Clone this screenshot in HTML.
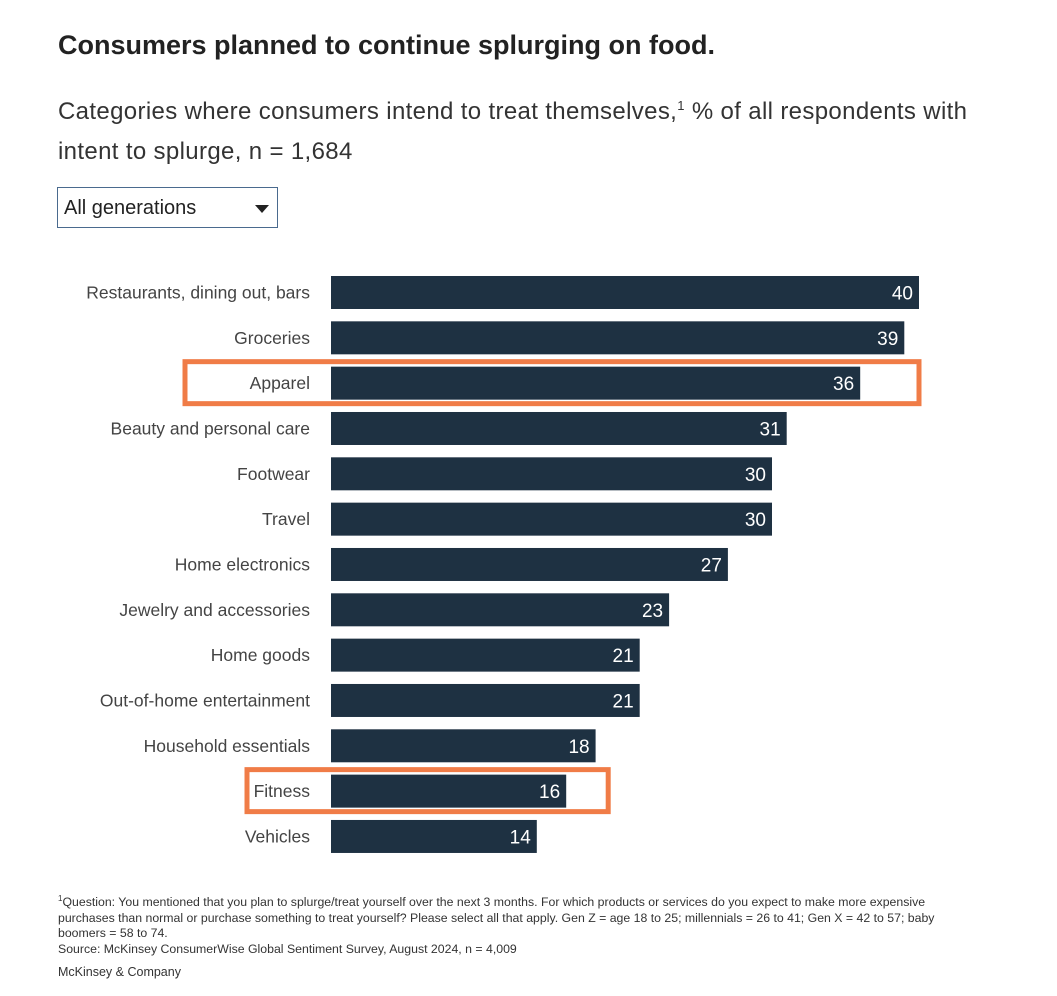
<!DOCTYPE html>
<html><head><meta charset="utf-8"><style>
body{margin:0;width:1057px;height:996px;background:#fff;font-family:"Liberation Sans",sans-serif;position:relative;overflow:hidden;color:#222}
.abs{position:absolute}
</style></head><body>
<div class="abs" style="left:58px;top:30px;font-size:27px;font-weight:bold;color:#222">Consumers planned to continue splurging on food.</div>
<div class="abs" style="left:58px;top:86px;width:945px;font-size:24px;letter-spacing:0.35px;line-height:40px;color:#333">Categories where consumers intend to treat themselves,<sup style="font-size:13px">1</sup> % of all respondents with intent to splurge, n = 1,684</div>
<div class="abs" style="left:57px;top:187px;width:221px;height:41px;border:1px solid #4a6a8e;box-sizing:border-box;font-size:20px;line-height:40px;padding-left:6px;color:#222">All generations<span style="position:absolute;right:8px;top:17px;width:0;height:0;border-left:7px solid transparent;border-right:7px solid transparent;border-top:8px solid #222"></span></div>
<svg class="abs" style="left:0;top:0" width="1057" height="996" id="chart"></svg>
<div class="abs" style="left:58px;top:891px;width:905px;font-size:12.3px;line-height:15.5px;color:#333"><sup style="font-size:8px">1</sup>Question: You mentioned that you plan to splurge/treat yourself over the next 3 months. For which products or services do you expect to make more expensive purchases than normal or purchase something to treat yourself? Please select all that apply. Gen Z = age 18 to 25; millennials = 26 to 41; Gen X = 42 to 57; baby boomers = 58 to 74.<br>Source: McKinsey ConsumerWise Global Sentiment Survey, August 2024, n = 4,009</div>
<div class="abs" style="left:58px;top:965px;font-size:12.5px;color:#333">McKinsey &amp; Company</div>
<script>
const categories=["Restaurants, dining out, bars","Groceries","Apparel","Beauty and personal care","Footwear","Travel","Home electronics","Jewelry and accessories","Home goods","Out-of-home entertainment","Household essentials","Fitness","Vehicles"];
const values=[40,39,36,31,30,30,27,23,21,21,18,16,14];
const highlighted=["Apparel","Fitness"];
const svg=document.getElementById('chart');const NS='http://www.w3.org/2000/svg';
const x0=331,pxPer=14.7,y0=276,step=45.33,bh=33;
const x=v=>x0+v*pxPer;const y=i=>y0+i*step;
function mk(t,a){const e=document.createElementNS(NS,t);for(const k in a)e.setAttribute(k,a[k]);svg.appendChild(e);return e;}
categories.forEach((c,i)=>{
 if(highlighted.includes(c)){
  const isA=c==="Apparel";
  const left=isA?185:247, right=isA?x(40):x(values[i])+42;
  const r=mk('rect',{x:left,y:y(i)-5,width:right-left,height:bh+9,fill:'none',stroke:'#f07c47','stroke-width':5});
  
  
 }
 const b=mk('rect',{x:x0,y:y(i),width:x(values[i])-x0,height:bh,fill:'#1e3142'});
 
 
 const l=mk('text',{x:310,y:y(i)+bh/2+6,'text-anchor':'end','font-size':17.5,fill:'#444','font-family':'Liberation Sans, sans-serif'});
 l.textContent=c;
 
 
 const v=mk('text',{x:x(values[i])-6,y:y(i)+bh/2+7,'text-anchor':'end','font-size':19,fill:'#fff','font-family':'Liberation Sans, sans-serif'});
 v.textContent=values[i];
 
 
});
</script>
</body></html>
